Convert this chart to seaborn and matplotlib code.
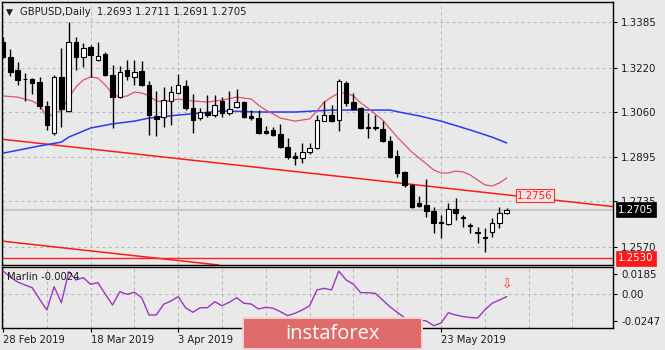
import matplotlib
matplotlib.use("Agg")
import matplotlib.pyplot as plt
import matplotlib.transforms as mtransforms
from matplotlib.patches import Rectangle
import numpy as np
import pandas as pd
import seaborn as sns

# ---- GBPUSD daily candles (bar index 0 = 28 Feb 2019) ----
opens = [1.3313, 1.3258, 1.3211, 1.3180, 1.3179, 1.3168, 1.3081, 1.2983, 1.3186, 1.3063,
         1.3313, 1.3258, 1.3294, 1.3247, 1.3269, 1.3193, 1.3113, 1.3211, 1.3186, 1.3208,
         1.3157, 1.3045, 1.3041, 1.3099, 1.3128, 1.3153, 1.3073, 1.3037, 1.3059, 1.3048,
         1.3099, 1.3055, 1.3077, 1.3095, 1.3045, 1.3037, 1.2990, 1.2994, 1.2979, 1.2932,
         1.2900, 1.2892, 1.2914, 1.2929, 1.3026, 1.3048, 1.3030, 1.3164, 1.3095, 1.3073,
         1.3005, 1.3005, 1.2997, 1.2954, 1.2900, 1.2842, 1.2795, 1.2729, 1.2722, 1.2700,
         1.2659, 1.2653, 1.2708, 1.2675, 1.2646, 1.2621, 1.2603, 1.2624, 1.2657, 1.2693]
highs = [1.3330, 1.3287, 1.3240, 1.3200, 1.3182, 1.3186, 1.3099, 1.3193, 1.3291, 1.3385,
         1.3331, 1.3309, 1.3302, 1.3313, 1.3276, 1.3229, 1.3226, 1.3247, 1.3247, 1.3244,
         1.3171, 1.3135, 1.3150, 1.3153, 1.3197, 1.3175, 1.3124, 1.3073, 1.3121, 1.3121,
         1.3113, 1.3135, 1.3142, 1.3099, 1.3066, 1.3066, 1.3008, 1.3005, 1.3016, 1.2965,
         1.2914, 1.2947, 1.2947, 1.3048, 1.3099, 1.3084, 1.3179, 1.3171, 1.3128, 1.3077,
         1.3055, 1.3048, 1.3026, 1.2972, 1.2921, 1.2845, 1.2798, 1.2755, 1.2816, 1.2715,
         1.2686, 1.2729, 1.2748, 1.2686, 1.2657, 1.2642, 1.2639, 1.2675, 1.2715, 1.2711]
lows = [1.3255, 1.3189, 1.3157, 1.3099, 1.3124, 1.3070, 1.2994, 1.2976, 1.3005, 1.3059,
        1.3211, 1.3222, 1.3186, 1.3245, 1.3190, 1.3001, 1.3110, 1.3175, 1.3157, 1.3153,
        1.2976, 1.2972, 1.3005, 1.3012, 1.3128, 1.3066, 1.2983, 1.3030, 1.3041, 1.3041,
        1.3041, 1.3048, 1.3073, 1.3037, 1.3030, 1.2979, 1.2980, 1.2972, 1.2929, 1.2889,
        1.2867, 1.2874, 1.2907, 1.2925, 1.3026, 1.3023, 1.2990, 1.3081, 1.3066, 1.2997,
        1.2965, 1.2994, 1.2950, 1.2892, 1.2824, 1.2787, 1.2711, 1.2715, 1.2679, 1.2621,
        1.2603, 1.2650, 1.2668, 1.2642, 1.2621, 1.2585, 1.2552, 1.2606, 1.2639, 1.2691]
closes = [1.3258, 1.3204, 1.3175, 1.3178, 1.3164, 1.3081, 1.3012, 1.3186, 1.3070, 1.3313,
          1.3258, 1.3291, 1.3265, 1.3262, 1.3193, 1.3113, 1.3204, 1.3189, 1.3204, 1.3157,
          1.3048, 1.3034, 1.3102, 1.3131, 1.3157, 1.3073, 1.3030, 1.3059, 1.3048, 1.3084,
          1.3055, 1.3070, 1.3095, 1.3041, 1.3037, 1.2983, 1.2983, 1.2976, 1.2932, 1.2896,
          1.2892, 1.2914, 1.2929, 1.3030, 1.3048, 1.3026, 1.3171, 1.3092, 1.3070, 1.3001,
          1.3001, 1.3001, 1.2954, 1.2896, 1.2838, 1.2795, 1.2715, 1.2718, 1.2700, 1.2657,
          1.2657, 1.2708, 1.2693, 1.2675, 1.2646, 1.2621, 1.2603, 1.2657, 1.2693, 1.2705]

# ---- moving averages (sampled at bar indices) ----
fast_ma_bars = [0, 2, 4, 5, 6, 7, 8, 9, 10, 11, 12, 13, 14, 15, 16, 17, 18, 19, 20, 21,
                22, 24, 26, 28, 30, 32, 34, 35, 36, 37, 38, 40, 42, 43, 44, 45, 46, 47, 48,
                49, 50, 52, 54, 56, 58, 59, 60, 61, 62, 63, 64, 65, 66, 67, 68, 69]
fast_ma = [1.3117, 1.3113, 1.3099, 1.3084, 1.3041, 1.3052, 1.3066, 1.3110, 1.3150, 1.3175,
           1.3186, 1.3182, 1.3157, 1.3124, 1.3113, 1.3117, 1.3131, 1.3128, 1.3117, 1.3099,
           1.3095, 1.3106, 1.3099, 1.3095, 1.3102, 1.3113, 1.3106, 1.3084, 1.3066, 1.3052,
           1.3037, 1.3026, 1.3034, 1.3063, 1.3095, 1.3113, 1.3128, 1.3128, 1.3117, 1.3092,
           1.3073, 1.3030, 1.2968, 1.2914, 1.2871, 1.2849, 1.2838, 1.2838, 1.2845, 1.2842,
           1.2831, 1.2813, 1.2795, 1.2791, 1.2802, 1.2820]
slow_ma_bars = [0, 5, 8, 9, 10, 12, 15, 18, 20, 24, 27, 30, 35, 40, 45, 50, 53, 55, 57,
                60, 64, 67, 69]
slow_ma = [1.2910, 1.2936, 1.2950, 1.2968, 1.2979, 1.3001, 1.3016, 1.3026, 1.3037, 1.3048,
           1.3055, 1.3063, 1.3059, 1.3059, 1.3066, 1.3066, 1.3066, 1.3055, 1.3045, 1.3026,
           1.2994, 1.2968, 1.2947]

# ---- Marlin oscillator ----
marlin = [0.0211, 0.0156, 0.0110, 0.0083, 0.0058, -0.0046, -0.0147, 0.0067, -0.0080, 0.0205,
          0.0129, 0.0150, 0.0089, 0.0104, 0.0000, -0.0101, 0.0021, -0.0003, 0.0016, -0.0034,
          -0.0193, -0.0193, -0.0095, -0.0064, -0.0025, -0.0126, -0.0168, -0.0126, -0.0126, -0.0071,
          -0.0108, -0.0076, -0.0034, -0.0085, -0.0092, -0.0138, -0.0122, -0.0131, -0.0163, -0.0199,
          -0.0177, -0.0147, -0.0108, 0.0037, 0.0052, 0.0037, 0.0211, 0.0129, 0.0089, 0.0012,
          0.0012, 0.0006, -0.0055, -0.0117, -0.0168, -0.0218, -0.0230, -0.0239, -0.0248, -0.0291,
          -0.0267, -0.0172, -0.0193, -0.0207, -0.0216, -0.0221, -0.0147, -0.0085, -0.0055, -0.0024]

# ---- drawn objects ----
trend_start = (0, 1.2960)
trend_label = (70, 1.2756)
channel_start = 1.2591
support_level = 1.2530
signal_bar = 69
signal_level = 0.0085

price_ticks = [1.3385, 1.3220, 1.3060, 1.2895, 1.2735, 1.2570]
marlin_ticks = [0.0185, 0.0, -0.0247]
marlin_tick_labels = ["0.0185", "0.00", "-0.0247"]
date_bars = [0, 12, 24, 60]
date_labels = ["28 Feb 2019", "18 Mar 2019", "3 Apr 2019", "23 May 2019"]

# ---------------------------------------------------------------
sns.set_theme(style="white")
plt.rcParams["font.family"] = ["DejaVu Sans"]

BG = "#e9e9e9"
GRID = "#b8b8b8"
TXT = "#1c1c1c"
W, H = 665, 350

fig = plt.figure(figsize=(W / 100, H / 100), dpi=100, facecolor=BG)


def px_rect(x0, y0, x1, y1):
    return [x0 / W, 1 - y1 / H, (x1 - x0) / W, (y1 - y0) / H]


ax = fig.add_axes(px_rect(2, 2, 613, 265))
ax2 = fig.add_axes(px_rect(2, 267, 613, 328), sharex=ax)
for a in (ax, ax2):
    a.set_facecolor(BG)
    for s in a.spines.values():
        s.set_color("black")
        s.set_linewidth(1.0)

xmin, xmax = -0.137, 83.56
ax.set_xlim(xmin, xmax)
ax.set_ylim(1.25049, 1.34574)
ax2.set_ylim(-0.03125, 0.0248)

candles = pd.DataFrame({"bar": np.arange(len(opens)), "open": opens, "high": highs,
                        "low": lows, "close": closes})
up = candles["close"] >= candles["open"]

# trend channel, support and bid line
ax.axline(trend_start, trend_label, color="#ff1a1a", lw=1.1, zorder=2)
slope = (trend_label[1] - trend_start[1]) / (trend_label[0] - trend_start[0])
ax.axline((0, channel_start), slope=slope, color="#ff1a1a", lw=1.1, zorder=2)
ax.axhline(support_level, color="#ff2020", lw=1.0, zorder=2)
ax.axhline(closes[-1], color="#c9c9c9", lw=1.6, zorder=1.5)

# moving averages
sns.lineplot(x=slow_ma_bars, y=slow_ma, ax=ax, color="#2c38f2", lw=1.1, zorder=3)
sns.lineplot(x=fast_ma_bars, y=fast_ma, ax=ax, color="#e2506a", lw=0.9, zorder=3)

# candles
ax.vlines(candles["bar"], candles["low"], candles["high"], color="black", lw=1.0, zorder=4)
body_lo = np.minimum(candles["open"], candles["close"])
body_h = np.maximum(np.abs(candles["close"] - candles["open"]), 0.00022)
ax.bar(candles["bar"], body_h, bottom=body_lo, width=0.62,
       color=np.where(up, "white", "black"), edgecolor="black", linewidth=0.8, zorder=5)

# grids and ticks
grid_bars = list(range(0, 84, 6))
ax.set_xticks(grid_bars)
ax.tick_params(axis="x", length=0, labelbottom=False)
ax.yaxis.tick_right()
ax.set_yticks(price_ticks)
ax.set_yticklabels([f"{v:.4f}" for v in price_ticks])
ax.tick_params(axis="y", right=True, length=3, width=0.8, pad=3, labelsize=7.4,
               labelcolor=TXT, color="black")
ax.grid(True, color=GRID, lw=0.75, linestyle=(0, (3, 3)))
ax.set_xlabel("")
ax.set_ylabel("")

# Marlin panel
ax2.axhline(0, color=GRID, lw=0.75, linestyle=(0, (3, 3)), zorder=1)
sns.lineplot(x=candles["bar"], y=marlin, ax=ax2, color="#9a36bf", lw=1.0, zorder=3)
ax2.yaxis.tick_right()
ax2.set_yticks(marlin_ticks)
ax2.set_yticklabels(marlin_tick_labels)
ax2.tick_params(axis="y", right=True, length=3, width=0.8, pad=3, labelsize=7.4,
                labelcolor=TXT, color="black")
ax2.set_xticks(date_bars)
ax2.set_xticklabels(date_labels, ha="left")
ax2.set_xticks([b for b in grid_bars if b not in date_bars], minor=True)
ax2.tick_params(axis="x", which="major", bottom=True, length=3, width=0.8, pad=2,
                labelsize=7.2, labelcolor=TXT, color="black")
ax2.tick_params(axis="x", which="minor", bottom=False, length=0)
ax2.grid(True, axis="x", which="both", color=GRID, lw=0.75, linestyle=(0, (3, 3)))
ax2.set_xlabel("")
ax2.set_ylabel("")
ax2.text(signal_bar, signal_level, "\u21e9", color="#ff2a2a", fontsize=9,
         ha="center", va="center", zorder=6)

# price labels on the right scale
right_tf = mtransforms.blended_transform_factory(ax.transAxes, ax.transData)
ax.text(1.0085, closes[-1], f"{closes[-1]:.4f}", transform=right_tf, ha="left", va="center",
        fontsize=7.4, color="white", clip_on=False, zorder=10,
        bbox=dict(boxstyle="square,pad=0.25", fc="black", ec="black", lw=0.5))
ax.text(1.0085, support_level, f"{support_level:.4f}", transform=right_tf, ha="left",
        va="center", fontsize=7.4, color="white", clip_on=False, zorder=10,
        bbox=dict(boxstyle="square,pad=0.25", fc="#ff1a1a", ec="#ff1a1a", lw=0.5))
ax.text(trend_label[0] + 0.45, trend_label[1], f"{trend_label[1]:.4f}", ha="left",
        va="center", fontsize=7.4, color="#ff2020", zorder=10,
        bbox=dict(boxstyle="square,pad=0.15", fc="#f3e4e4", ec="#ff3030", lw=0.8))

# chart captions
fig.text(6 / W, 1 - 12 / H, "\u25bc", fontsize=6.5, color=TXT, va="center", ha="left")
fig.text(20 / W, 1 - 12 / H,
         "GBPUSD,Daily  " + " ".join(f"{v:.4f}" for v in
                                     (opens[-1], highs[-1], lows[-1], closes[-1])),
         fontsize=7.2, color=TXT, va="center", ha="left")
fig.text(7 / W, 1 - 277 / H, f"Marlin {marlin[-1]:.4f}", fontsize=7.2, color=TXT,
         va="center", ha="left")

# watermark badge
badge = fig.add_axes(px_rect(243, 318, 422, 349))
badge.set_axis_off()
badge.add_patch(Rectangle((0, 0), 1, 1, transform=badge.transAxes, fc="#e06b6b",
                          ec="#f4d4d4", lw=1.4, clip_on=False))
badge.text(0.5, 0.47, "instaforex", transform=badge.transAxes, ha="center", va="center",
           fontsize=14.5, color="white", family=["Open Sans", "DejaVu Sans"])

fig.savefig("out.png", dpi=100, facecolor=BG)
